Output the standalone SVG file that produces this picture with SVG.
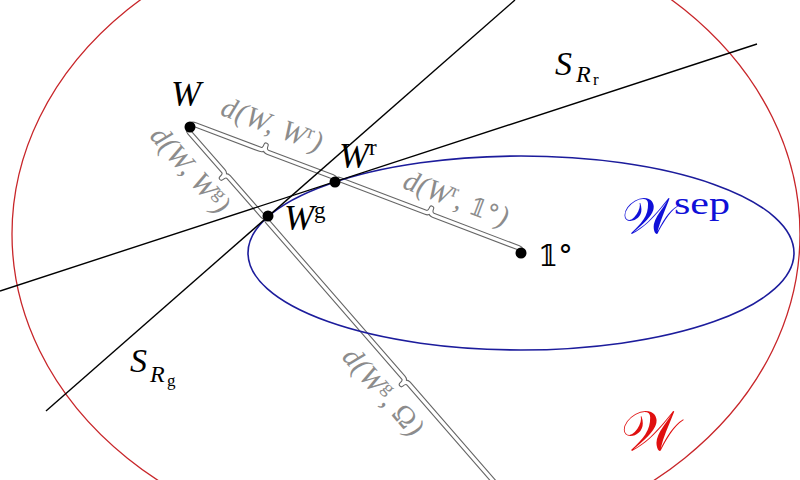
<svg xmlns="http://www.w3.org/2000/svg" width="800" height="480" viewBox="0 0 800 480">
<style>
.bo{fill:none;stroke:#666666;stroke-width:5.4;stroke-linejoin:round;stroke-linecap:round}
.bi{fill:none;stroke:#ffffff;stroke-width:3.2;stroke-linejoin:round;stroke-linecap:round}
.ln{fill:none;stroke:#000;stroke-width:1.4}
.dot{fill:#000}
.m{font-family:"Liberation Serif","DejaVu Serif",serif;font-style:italic;fill:#000}
.up{font-style:normal}
.g{font-family:"Liberation Serif","DejaVu Serif",serif;font-style:italic;fill:#8c8c8c;font-size:29px}
.cal{font-family:"DejaVu Serif","Liberation Serif","DejaVu Sans",serif;font-style:normal}
</style>
<defs>
<path id="b1" d="M190,127 Q191.42,123.26 195.16,124.68 L260.18,149.34 Q263.92,150.76 266.05,145.15 Q263.92,150.76 267.66,152.18 L332.68,176.84 Q336.42,178.26 335,182"/>
<path id="b2" d="M190,127 Q186.99,129.64 189.63,132.64 L223.36,171.13 Q225.99,174.14 221.48,178.09 Q225.99,174.14 228.63,177.14 L262.36,215.63 Q264.99,218.64 268,216"/>
<path id="b3" d="M335,182 Q336.43,178.26 340.16,179.69 L425.69,212.34 Q429.43,213.76 431.57,208.16 Q429.43,213.76 433.16,215.19 L518.69,247.84 Q522.43,249.26 521,253"/>
<path id="b4" d="M268,216 Q264.98,218.63 267.61,221.64 L403.36,377.61 Q405.98,380.63 401.46,384.57 Q405.98,380.63 408.61,383.64 L544.36,539.61 Q546.98,542.63 550,540"/>
</defs>
<rect width="800" height="480" fill="#fff"/>
<g id="connectors">
<use href="#b1" class="bo"/><use href="#b1" class="bi"/>
<use href="#b2" class="bo"/><use href="#b2" class="bi"/>
<use href="#b3" class="bo"/><use href="#b3" class="bi"/>
<use href="#b4" class="bo"/><use href="#b4" class="bi"/>
</g>
<g id="region-W">
<ellipse cx="406" cy="234" rx="394" ry="317" fill="none" stroke="#c8262a" stroke-width="1.3"/>
<text x="621" y="450" class="cal" font-size="56" fill="#e01010">𝒲</text>
</g>
<g id="region-Wsep">
<ellipse cx="521" cy="253" rx="273" ry="97" fill="none" stroke="#1c1c9c" stroke-width="1.6"/>
<text x="622" y="233" class="cal" font-size="50" fill="#1010d8">𝒲<tspan dy="-19" font-family="Liberation Serif,serif" font-size="31" textLength="56" lengthAdjust="spacingAndGlyphs">sep</tspan></text>
</g>
<g id="S_Rr">
<line x1="0" y1="291" x2="757" y2="44" class="ln"/>
<text x="555" y="75" class="m" font-size="34">S<tspan x="576" y="82" font-size="24">R</tspan><tspan x="593" y="85" font-size="17" class="up">r</tspan></text>
</g>
<g id="S_Rg">
<line x1="46" y1="411" x2="515" y2="0" class="ln"/>
<text x="130" y="372" class="m" font-size="34">S<tspan x="150" y="382" font-size="24">R</tspan><tspan x="167" y="386" font-size="17" class="up">g</tspan></text>
</g>
<g id="node-W">
<circle cx="190" cy="127" r="5.5" class="dot"/>
<text x="171" y="106" class="m" font-size="36">W</text>
</g>
<g id="node-Wr">
<circle cx="335" cy="182" r="5.5" class="dot"/>
<text x="339" y="168" class="m" font-size="36">W<tspan dy="-13" font-size="23" class="up">r</tspan></text>
</g>
<g id="node-Wg">
<circle cx="268" cy="216" r="5.5" class="dot"/>
<text x="284" y="230" class="m" font-size="36">W<tspan dy="-12" font-size="23" class="up">g</tspan></text>
</g>
<g id="node-1">
<circle cx="521" cy="253" r="5.5" class="dot"/>
<text x="538" y="266" font-family="DejaVu Serif,DejaVu Sans,serif" font-size="29" fill="#000">𝟙°</text>
</g>
<g id="labels">
<text class="g" text-anchor="middle" transform="translate(272,125) rotate(20.8)" y="9" textLength="106">d(W, W<tspan dy="-10" font-size="19" class="up">r</tspan><tspan dy="10">)</tspan></text>
<text class="g" text-anchor="middle" transform="translate(190,170) rotate(48.8)" y="9" textLength="105">d(W, W<tspan dy="-10" font-size="19" class="up">g</tspan><tspan dy="10">)</tspan></text>
<text class="g" text-anchor="middle" transform="translate(456,199) rotate(20.9)" y="9" textLength="110">d(W<tspan dy="-10" font-size="19" class="up">r</tspan><tspan dy="10">, </tspan><tspan class="up" font-family="DejaVu Serif,DejaVu Sans,serif" font-size="25">𝟙°</tspan>)</text>
<text class="g" text-anchor="middle" transform="translate(383,392) rotate(49)" y="9" textLength="107">d(W<tspan dy="-10" font-size="19" class="up">g</tspan><tspan dy="10">, </tspan><tspan class="up">Ω</tspan>)</text>
</g>
</svg>
